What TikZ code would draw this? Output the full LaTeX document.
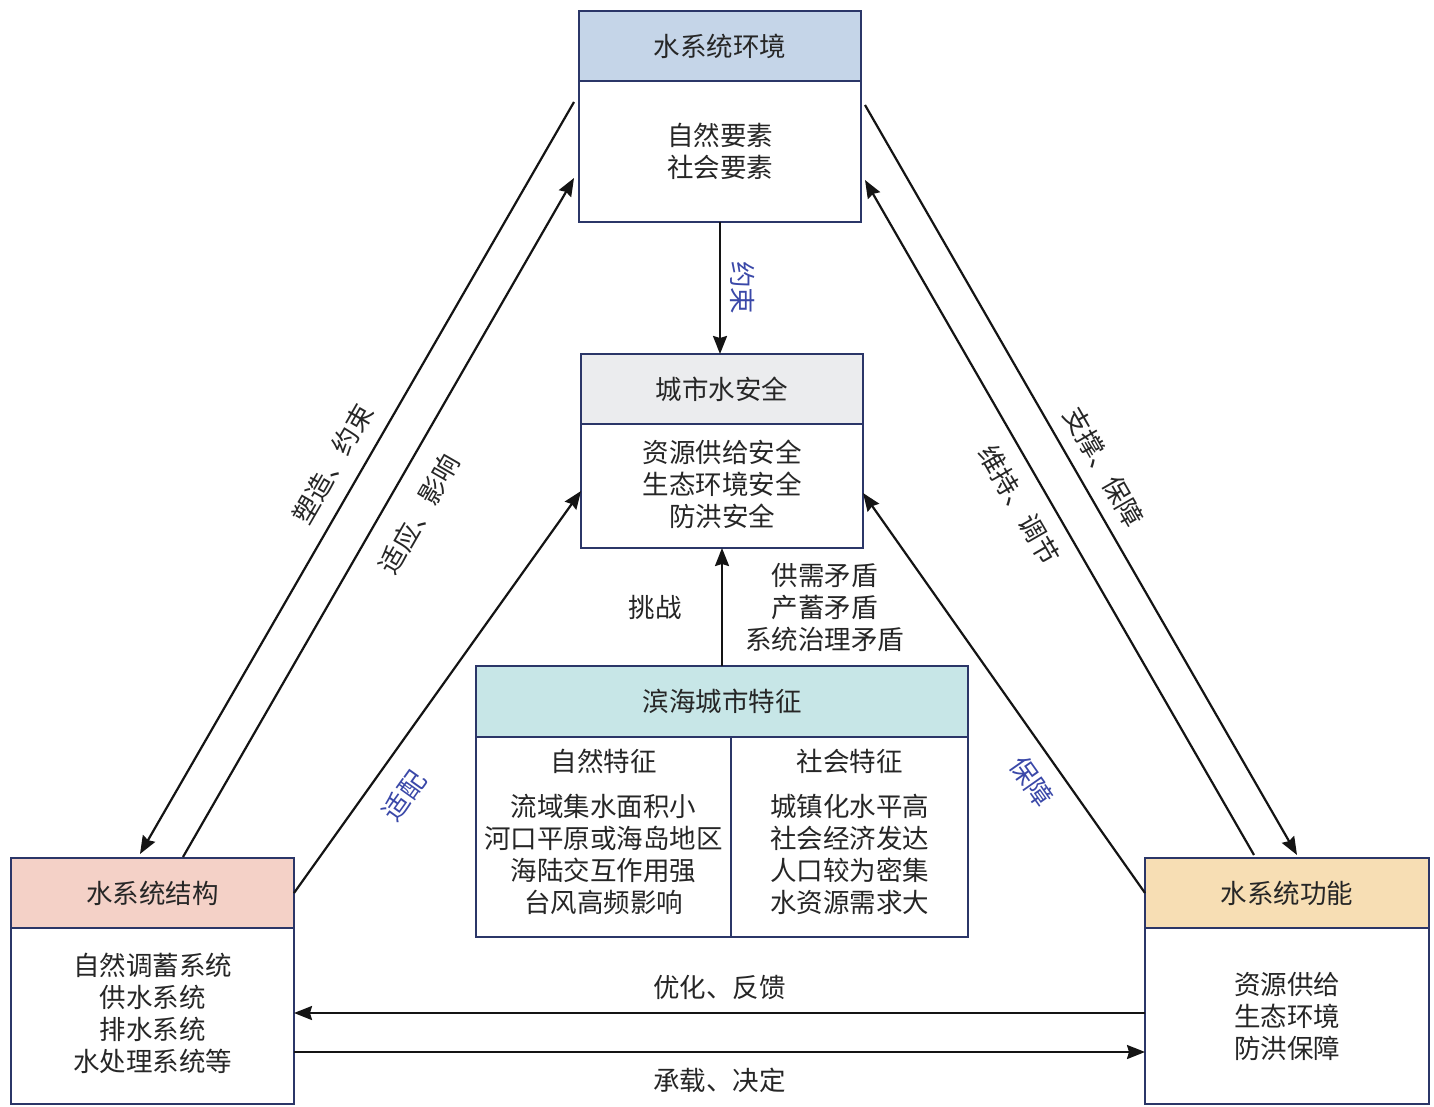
\documentclass[tikz,border=0pt]{standalone}
\usepackage{fontspec}
\setmainfont{Noto Sans CJK SC}
\usetikzlibrary{arrows.meta}
\definecolor{wsline}{HTML}{2B3668}
\definecolor{wsblue}{HTML}{3A48A8}
\definecolor{envfill}{HTML}{C5D5E8}
\definecolor{safefill}{HTML}{EBECEE}
\definecolor{coastfill}{HTML}{C7E6E7}
\definecolor{structfill}{HTML}{F4D1C7}
\definecolor{funcfill}{HTML}{F7DEB4}
\tikzset{
  ws font/.style={font=\fontsize{26.5pt}{32pt}\selectfont,text=black!85},
  ws head/.style={
    ws font,rectangle,draw=wsline,line width=2pt,outer sep=0pt,
    minimum height=70pt,inner sep=0pt
  },
  ws body/.style={
    ws font,rectangle,draw=wsline,line width=2pt,outer sep=0pt,
    fill=white,align=center,inner sep=0pt
  },
  ws edge/.style={black!92,line width=2.2pt,-{Stealth[length=18pt,width=14pt,inset=2pt]}},
  ws note/.style={ws font,inner sep=0pt},
  ws tag/.style={ws note,text=wsblue}
}
\newcommand{\wsbox}[8]{%
  \node[ws head,fill=#6,minimum width=#4pt,anchor=north] (#1head) at (#2,#3) {#7};
  \node[ws body,minimum width=#4pt,minimum height=#5pt,anchor=north]
    (#1body) at (#1head.south) {#8};%
}

\begin{document}
\begin{tikzpicture}[x=1pt,y=-1pt]
  \useasboundingbox (0,0) rectangle (1434,1107);
  \wsbox{env}{720}{11}{282}{141}{envfill}{水系统环境}{自然要素\\社会要素}
  \wsbox{safe}{722}{354}{282}{124}{safefill}{城市水安全}{资源供给安全\\生态环境安全\\防洪安全\rule[-6pt]{0pt}{0pt}}
  \wsbox{struct}{152.5}{858}{283}{176}{structfill}{水系统结构}{自然调蓄系统\\供水系统\\排水系统\\水处理系统等\rule[-8pt]{0pt}{0pt}}
  \wsbox{func}{1287}{858}{284}{176}{funcfill}{水系统功能}{资源供给\\生态环境\\防洪保障}
  % coastal city box with two columns
  \node[ws head,fill=coastfill,minimum width=492pt,minimum height=71pt,anchor=north]
    (coasthead) at (722,666) {滨海城市特征};
  \node[ws body,minimum width=255pt,minimum height=200pt,anchor=north west] (natbody)
    at (coasthead.south west) {自然特征\\[13pt]流域集水面积小\\河口平原或海岛地区\\海陆交互作用强\\台风高频影响\rule[-12pt]{0pt}{0pt}};
  \node[ws body,minimum width=237pt,minimum height=200pt,anchor=north east] (socbody)
    at (coasthead.south east) {社会特征\\[13pt]城镇化水平高\\社会经济发达\\人口较为密集\\水资源需求大\rule[-12pt]{0pt}{0pt}};

  \draw[ws edge] (envbody.south) -- (envbody.south |- safehead.north)
    node[ws tag,midway,sloped,above=9pt] (tagconstrain) {约束};
  \draw[ws edge] (coasthead.north) -- (safebody.south)
    node[ws note,midway,left=39pt] (tagchallenge) {挑战}
    node[ws note,midway,right=22pt,align=center] (tagconflict) {供需矛盾\\产蓄矛盾\\系统治理矛盾};

  \draw[ws edge] ([xshift=-5pt,yshift=-21pt]envbody.north west)
    -- ([xshift=129pt,yshift=4pt]structhead.north west)
    node[ws note,pos=.5,sloped,above=15pt] (tagshape) {塑造、约束};
  \draw[ws edge] ([xshift=172pt,yshift=1pt]structhead.north west)
    -- ([xshift=-5pt,yshift=-97pt]envbody.north west)
    node[ws note,pos=.53,sloped,below=20pt] (tagadapt) {适应、影响};
  \draw[ws edge] ([xshift=4pt,yshift=-24pt]envbody.north east)
    -- ([xshift=152pt,yshift=3pt]funchead.north west)
    node[ws note,pos=.5,sloped,above=13pt] (tagsupport) {支撑、保障};
  \draw[ws edge] ([xshift=109pt,yshift=3pt]funchead.north west)
    -- ([xshift=4pt,yshift=-99pt]envbody.north east)
    node[ws note,pos=.54,sloped,below=15pt] (tagkeep) {维持、调节};

  \draw[ws edge] (structhead.east) -- ([yshift=-5pt]safebody.west)
    node[ws tag,pos=.29,sloped,below=20pt] (tagfit) {适配};
  \draw[ws edge] (funchead.west) -- ([yshift=-7pt]safebody.east)
    node[ws tag,pos=.32,sloped,below=15pt] (tagguard) {保障};

  \draw[ws edge] ([yshift=3pt]funcbody.west) -- ([yshift=3pt]structbody.east)
    node[ws note,midway,above=12pt] (tagoptim) {优化、反馈};
  \draw[ws edge] ([yshift=-36pt]structbody.east) -- ([yshift=-36pt]funcbody.west)
    node[ws note,midway,below=15pt] (tagbear) {承载、决定};
\end{tikzpicture}
\end{document}
